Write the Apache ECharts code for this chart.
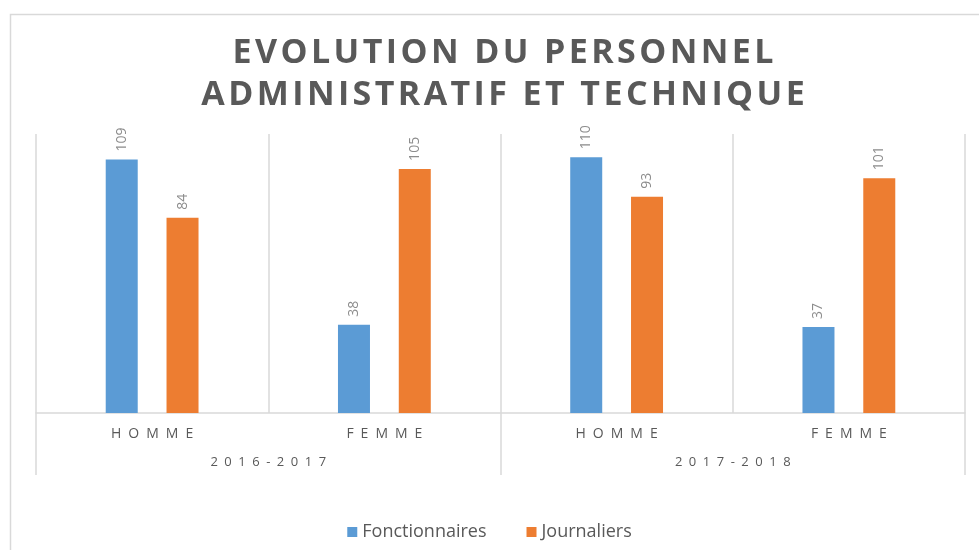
<!DOCTYPE html>
<html>
<head>
<meta charset="utf-8">
<script src="https://cdn.jsdelivr.net/npm/echarts@6/dist/echarts.min.js"></script>
<style>
  html, body { margin: 0; padding: 0; background: #fff; }
  #chart { width: 979px; height: 550px; }
</style>
</head>
<body>
<div id="chart"></div>
<script>
// données
const titleLines = ['EVOLUTION DU PERSONNEL', 'ADMINISTRATIF ET TECHNIQUE'];
const categories = ['HOMME', 'FEMME', 'HOMME', 'FEMME'];
const years = ['2016-2017', '2017-2018'];
const fonctionnaires = [109, 38, 110, 37];
const journaliers = [84, 105, 93, 101];

const GRAY = '#595959';
const LINE = '#d9d9d9';
// espacement des lettres comme dans Excel
const spaced = (s, sep) => s.split('').join(sep || '\u2002');

const chart = echarts.init(document.getElementById('chart'));

const labelStyle = {
    show: true,
    position: 'top',
    rotate: 90,
    distance: 8,
    align: 'left',
    verticalAlign: 'middle',
    color: '#8c8c8c',
    fontSize: 14,
    fontFamily: 'Open Sans'
};

chart.setOption({
    backgroundColor: '#fff',
    animation: false,
    graphic: [{
        type: 'rect',
        left: 8, top: 12,
        shape: { width: 1000, height: 600 },
        style: { fill: 'none', stroke: LINE, lineWidth: 1.5 }
    }],
    title: {
        text: titleLines.map(l => spaced(l, '\u200a')).join('\n'),
        left: 498, top: 27, textAlign: 'center',
        textStyle: {
            color: GRAY, fontSize: 34, fontWeight: 'bold',
            fontFamily: 'Open Sans', lineHeight: 42
        }
    },
    legend: {
        bottom: 4,
        left: 'center',
        itemWidth: 10, itemHeight: 10, itemGap: 40,
        icon: 'rect',
        textStyle: { color: GRAY, fontSize: 18, fontFamily: 'Open Sans' },
        data: ['Fonctionnaires', 'Journaliers']
    },
    grid: { left: 36, right: 14, top: 134, bottom: 137 },
    xAxis: [{
        type: 'category',
        data: categories,
        axisLine: { lineStyle: { color: LINE, width: 1.5 } },
        axisTick: { show: false },
        splitLine: { show: true, lineStyle: { color: LINE, width: 1.5 } },
        axisLabel: {
            margin: 14, color: GRAY, fontSize: 14, fontFamily: 'Open Sans',
            formatter: (v) => spaced(v)
        }
    }, {
        type: 'category',
        data: years,
        position: 'bottom',
        axisLine: { show: false },
        axisTick: { show: true, length: 62, lineStyle: { color: LINE, width: 1.5 } },
        axisLabel: {
            margin: 43, color: GRAY, fontSize: 13, fontFamily: 'Open Sans',
            formatter: (v) => spaced(v)
        }
    }],
    yAxis: { type: 'value', min: 0, max: 120, show: false, splitLine: { show: false } },
    series: [{
        name: 'Fonctionnaires',
        type: 'bar',
        data: fonctionnaires,
        barWidth: 32,
        barGap: '90%',
        itemStyle: { color: '#5b9bd5' },
        label: labelStyle
    }, {
        name: 'Journaliers',
        type: 'bar',
        data: journaliers,
        barWidth: 32,
        barGap: '90%',
        itemStyle: { color: '#ed7d31' },
        label: labelStyle
    }]
});
</script>
</body>
</html>
